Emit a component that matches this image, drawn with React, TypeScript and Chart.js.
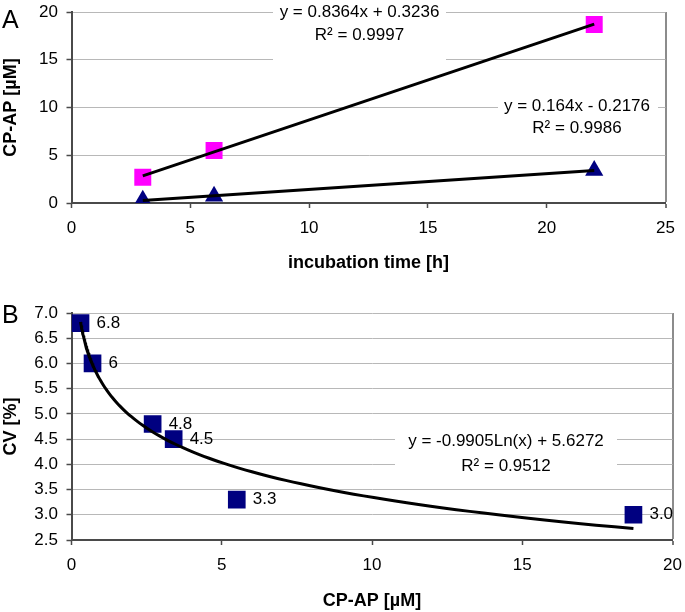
import React, { useEffect, useRef } from "react";
import { Chart, registerables } from "chart.js";

Chart.register(...registerables);

// ---------- Panel A data ----------
const INCUBATION_H = [3, 6, 22];
const CPAP_SQUARE = [2.7, 5.5, 18.7];
const CPAP_TRIANGLE = [0.3, 0.7, 3.4];
const TREND_SQUARE = { slope: 0.8364, intercept: 0.3236 };
const TREND_TRIANGLE = { slope: 0.164, intercept: -0.2176 };
const EQ_SQUARE = ["y = 0.8364x + 0.3236", "R\u00B2 = 0.9997"];
const EQ_TRIANGLE = ["y = 0.164x - 0.2176", "R\u00B2 = 0.9986"];
const A_X_TITLE = "incubation time [h]";
const A_Y_TITLE = "CP-AP [\u00B5M]";

// ---------- Panel B data ----------
const CPAP_UM = [0.3, 0.7, 2.7, 3.4, 5.5, 18.7];
const CV_PCT = [6.8, 6.0, 4.8, 4.5, 3.3, 3.0];
const CV_LABELS = ["6.8", "6", "4.8", "4.5", "3.3", "3.0"];
const TREND_LOG = { a: -0.9905, b: 5.6272 };
const EQ_LOG = ["y = -0.9905Ln(x) + 5.6272", "R\u00B2 = 0.9512"];
const B_X_TITLE = "CP-AP [\u00B5M]";
const B_Y_TITLE = "CV [%]";

const FONT = "'Liberation Sans', Arial, Helvetica, sans-serif";
const GRID = "#b8b8b8";
const AXIS = "#4a4a4a";
const FRAME = "#8c8c8c";

function linearTrend(xs: number[], t: { slope: number; intercept: number }) {
  const x0 = Math.min(...xs);
  const x1 = Math.max(...xs);
  return [x0, x1].map((x) => ({ x, y: t.slope * x + t.intercept }));
}

function logTrend(xs: number[], t: { a: number; b: number }) {
  const x0 = Math.min(...xs);
  const x1 = Math.max(...xs);
  const n = 120;
  const pts = [];
  for (let i = 0; i <= n; i++) {
    const x = x0 * Math.pow(x1 / x0, i / n);
    pts.push({ x, y: t.a * Math.log(x) + t.b });
  }
  return pts;
}

type Box = { x: number; y: number; w: number; h: number; cx: number; ys: number[]; lines: string[] };

function annotationPlugin(
  boxes: Box[],
  letter: string,
  letterY: number,
  pointLabels?: string[]
) {
  return {
    id: "annot" + letter,
    beforeDatasetsDraw(chart: any) {
      const ctx = chart.ctx;
      ctx.save();
      for (const b of boxes) {
        ctx.fillStyle = "#ffffff";
        ctx.fillRect(b.x, b.y, b.w, b.h);
        ctx.fillStyle = "#000";
        ctx.font = `17px ${FONT}`;
        ctx.textAlign = "center";
        ctx.textBaseline = "middle";
        b.lines.forEach((l, i) => ctx.fillText(l, b.cx, b.ys[i]));
      }
      ctx.restore();
    },
    afterDatasetsDraw(chart: any) {
      const ctx = chart.ctx;
      ctx.save();
      if (pointLabels) {
        const meta = chart.getDatasetMeta(1);
        ctx.fillStyle = "#000";
        ctx.font = `17px ${FONT}`;
        ctx.textAlign = "left";
        ctx.textBaseline = "middle";
        meta.data.forEach((el: any, i: number) => {
          ctx.fillText(pointLabels[i], el.x + 16, el.y);
        });
      }
      ctx.fillStyle = "#000";
      ctx.font = `25px ${FONT}`;
      ctx.textAlign = "left";
      ctx.textBaseline = "alphabetic";
      ctx.fillText(letter, 2, letterY);
      ctx.restore();
    },
  };
}

function axisOptions(opts: {
  min: number;
  max: number;
  step: number;
  title: string;
  isX: boolean;
  size: number;
  titlePad: number;
  fmt?: (v: number) => string;
}) {
  return {
    type: "linear",
    position: opts.isX ? "bottom" : "left",
    min: opts.min,
    max: opts.max,
    afterFit: (s: any) => {
      if (opts.isX) {
        s.height = opts.size;
        s.paddingLeft = 0;
        s.paddingRight = 0;
      } else {
        s.width = opts.size;
        s.paddingTop = 0;
        s.paddingBottom = 0;
      }
    },
    ticks: {
      stepSize: opts.step,
      color: "#000",
      font: { family: FONT, size: 17 },
      padding: opts.isX ? 10 : 8.5,
      maxRotation: 0,
      autoSkip: false,
      callback: (v: any) => (opts.fmt ? opts.fmt(Number(v)) : String(v)),
    },
    grid: opts.isX
      ? {
          color: (c: any) => (c.tick && c.tick.value === opts.max ? FRAME : "rgba(0,0,0,0)"),
          lineWidth: (c: any) => (c.tick && c.tick.value === opts.max ? 2 : 1),
          tickColor: AXIS,
          tickWidth: 1.5,
          tickLength: 5,
        }
      : { color: GRID, lineWidth: 1, tickColor: AXIS, tickWidth: 1.5, tickLength: 5 },
    border: { display: true, color: AXIS, width: 2 },
    title: {
      display: true,
      text: opts.title,
      color: "#000",
      font: { family: FONT, size: 18, weight: "bold" },
      padding: opts.isX ? { top: 0, bottom: opts.titlePad } : { top: 0, bottom: 0 },
    },
  };
}

function ChartA() {
  const ref = useRef<HTMLCanvasElement>(null);
  useEffect(() => {
    const chart = new Chart(ref.current as HTMLCanvasElement, {
      type: "scatter",
      data: {
        datasets: [
          {
            data: linearTrend(INCUBATION_H, TREND_SQUARE),
            showLine: true,
            borderColor: "#000",
            borderWidth: 3,
            pointRadius: 0,
            order: 0,
          },
          {
            data: linearTrend(INCUBATION_H, TREND_TRIANGLE),
            showLine: true,
            borderColor: "#000",
            borderWidth: 3,
            pointRadius: 0,
            order: 0,
          },
          {
            data: INCUBATION_H.map((x, i) => ({ x, y: CPAP_SQUARE[i] })),
            pointStyle: "rect",
            pointRadius: 12,
            backgroundColor: "#ff00ff",
            borderWidth: 0,
            order: 1,
          },
          {
            data: INCUBATION_H.map((x, i) => ({ x, y: CPAP_TRIANGLE[i] })),
            pointStyle: "triangle",
            pointRadius: 10.5,
            backgroundColor: "#000080",
            borderWidth: 0,
            order: 1,
          },
        ],
      } as any,
      options: {
        responsive: false,
        animation: false,
        events: [],
        layout: { padding: { top: 7.7, right: 19.5, left: 0, bottom: 0 } },
        plugins: { legend: { display: false }, tooltip: { enabled: false } },
        scales: {
          x: axisOptions({ min: 0, max: 25, step: 5, title: A_X_TITLE, isX: true, size: 97, titlePad: 26 }),
          y: axisOptions({ min: 0, max: 20, step: 5, title: A_Y_TITLE, isX: false, size: 71.5, titlePad: 0 }),
        },
      } as any,
      plugins: [
        annotationPlugin(
          [
            { x: 273, y: 0, w: 173, h: 60, cx: 359.5, ys: [12, 35], lines: EQ_SQUARE },
            { x: 498, y: 94, w: 160, h: 46, cx: 577, ys: [106, 128], lines: EQ_TRIANGLE },
          ],
          "A",
          28
        ),
      ],
    });
    return () => chart.destroy();
  }, []);
  return <canvas ref={ref} width={685} height={300} style={{ display: "block" }} />;
}

function ChartB() {
  const ref = useRef<HTMLCanvasElement>(null);
  useEffect(() => {
    const chart = new Chart(ref.current as HTMLCanvasElement, {
      type: "scatter",
      data: {
        datasets: [
          {
            data: logTrend(CPAP_UM, TREND_LOG),
            showLine: true,
            borderColor: "#000",
            borderWidth: 3,
            pointRadius: 0,
            order: 0,
          },
          {
            data: CPAP_UM.map((x, i) => ({ x, y: CV_PCT[i] })),
            pointStyle: "rect",
            pointRadius: 12.5,
            backgroundColor: "#000080",
            borderWidth: 0,
            order: 1,
          },
        ],
      } as any,
      options: {
        responsive: false,
        animation: false,
        events: [],
        layout: { padding: { top: 13, right: 11, left: 0, bottom: 0 } },
        plugins: { legend: { display: false }, tooltip: { enabled: false } },
        scales: {
          x: axisOptions({ min: 0, max: 20, step: 5, title: B_X_TITLE, isX: true, size: 72, titlePad: 0 }),
          y: axisOptions({
            min: 2.5,
            max: 7,
            step: 0.5,
            title: B_Y_TITLE,
            isX: false,
            size: 71.5,
            titlePad: 0,
            fmt: (v) => v.toFixed(1),
          }),
        },
      } as any,
      plugins: [
        annotationPlugin(
          [{ x: 395, y: 128, w: 222, h: 50, cx: 506, ys: [141.7, 166], lines: EQ_LOG }],
          "B",
          23,
          CV_LABELS
        ),
      ],
    });
    return () => chart.destroy();
  }, []);
  return <canvas ref={ref} width={685} height={312} style={{ display: "block" }} />;
}

export default function App() {
  return (
    <div
      style={{
        position: "absolute",
        left: 0,
        top: 0,
        width: 685,
        height: 612,
        background: "#fff",
      }}
    >
      <ChartA />
      <ChartB />
    </div>
  );
}
